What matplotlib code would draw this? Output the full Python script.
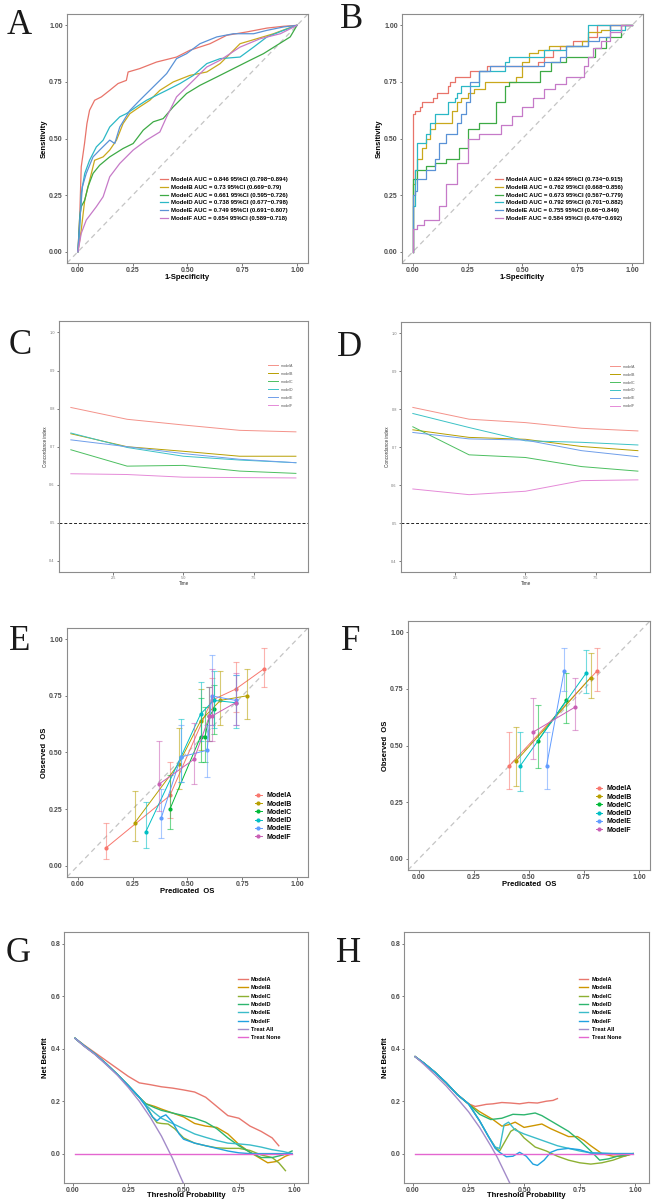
import numpy as np
import matplotlib
matplotlib.use("Agg")
import matplotlib.pyplot as plt

plt.rcParams['font.family'] = ['Liberation Sans', 'DejaVu Sans']

models = ["ModelA", "ModelB", "ModelC", "ModelD", "ModelE", "ModelF"]

# ---------------- ROC, training set (A) ----------------
aucA = ["0.846", "0.73", "0.661", "0.738", "0.749", "0.654"]
ciA = [("0.798", "0.894"), ("0.669", "0.79"), ("0.595", "0.726"),
       ("0.677", "0.798"), ("0.691", "0.807"), ("0.589", "0.718")]
rocA_fpr = [
    [0, .008, .015, .03, .041, .053, .076, .107, .145, .183, .221, .229, .282, .359, .45, .511, .603, .679, .771, .863, .939, 1],
    [0, .015, .031, .046, .076, .115, .145, .176, .206, .237, .282, .328, .374, .435, .511, .588, .649, .695, .740, .817, .893, .954, 1],
    [0, .008, .015, .031, .046, .069, .099, .145, .206, .252, .298, .344, .389, .435, .496, .557, .634, .71, .786, .847, .908, .969, 1],
    [0, .008, .015, .031, .053, .084, .115, .145, .191, .221, .267, .313, .359, .405, .466, .527, .588, .649, .740, .802, .863, .939, 1],
    [0, .008, .020, .038, .069, .099, .145, .168, .191, .237, .282, .328, .374, .405, .450, .496, .557, .634, .710, .802, .863, .939, 1],
    [0, .015, .038, .084, .115, .145, .191, .252, .313, .374, .405, .450, .527, .588, .649, .740, .832, .924, 1],
]
rocA_tpr = [
    [0, .154, .375, .478, .566, .625, .669, .684, .713, .743, .757, .794, .809, .838, .86, .89, .919, .956, .971, .988, .996, 1],
    [0, .096, .228, .287, .404, .419, .449, .493, .566, .610, .640, .669, .713, .750, .779, .794, .831, .875, .919, .941, .963, .985, 1],
    [0, .154, .199, .228, .287, .346, .382, .419, .456, .478, .537, .574, .588, .640, .699, .735, .772, .809, .846, .875, .912, .949, 1],
    [0, .110, .257, .346, .404, .463, .493, .551, .596, .610, .640, .669, .691, .713, .743, .779, .831, .853, .860, .904, .949, .978, 1],
    [0, .125, .287, .346, .419, .449, .493, .478, .551, .624, .669, .713, .757, .787, .853, .875, .919, .949, .963, .963, .978, .993, 1],
    [0, .081, .140, .199, .243, .331, .390, .449, .493, .529, .596, .684, .757, .816, .846, .904, .941, .963, 1],
]

# ---------------- ROC, validation set (B) ----------------
aucB = ["0.824", "0.762", "0.673", "0.792", "0.755", "0.584"]
ciB = [("0.734", "0.915"), ("0.668", "0.856"), ("0.567", "0.779"),
       ("0.701", "0.882"), ("0.66", "0.849"), ("0.476", "0.692")]
rocB_fpr = [
    [0, 0, .01, .03, .04, .06, .09, .11, .13, .16, .17, .19, .21, .26, .34, .37, .46, .57, .6, .64, .67, .73, .8, .84, .89, .95, 1],
    [0, 0, .01, .02, .04, .06, .08, .1, .12, .18, .2, .22, .25, .28, .33, .4, .47, .5, .53, .57, .62, .7, .77, .8, .86, .9, 1],
    [0, 0, .02, .06, .1, .15, .21, .25, .3, .38, .42, .44, .5, .58, .63, .7, .75, .83, .88, .95, 1],
    [0, 0, .01, .02, .03, .06, .08, .1, .12, .16, .19, .2, .22, .25, .3, .35, .42, .44, .47, .55, .6, .65, .7, .75, .8, .83, .9, .97, 1],
    [0, 0, .01, .02, .04, .06, .1, .12, .15, .18, .2, .22, .24, .26, .3, .35, .4, .5, .6, .67, .7, .8, .85, .9, .95, 1],
    [0, 0, .02, .05, .12, .15, .2, .25, .3, .4, .45, .5, .55, .6, .65, .7, .78, .8, .82, .86, .9, .95, 1],
]
rocB_tpr = [
    [0, .59, .61, .62, .64, .66, .66, .68, .70, .70, .73, .75, .77, .77, .80, .82, .82, .82, .84, .86, .89, .91, .93, .95, 1, 1, 1],
    [0, .12, .3, .36, .41, .46, .5, .54, .57, .57, .62, .66, .68, .70, .72, .75, .75, .77, .84, .88, .89, .91, .91, .93, .97, .98, 1],
    [0, .29, .32, .36, .38, .39, .41, .46, .54, .57, .66, .73, .75, .75, .80, .84, .86, .86, .90, .95, 1],
    [0, .05, .2, .36, .48, .48, .52, .57, .61, .61, .66, .68, .70, .73, .73, .80, .80, .84, .86, .86, .86, .89, .89, .91, .91, 1, 1, .98, 1],
    [0, .2, .25, .27, .32, .32, .36, .41, .48, .52, .52, .57, .61, .66, .75, .80, .82, .82, .82, .84, .86, .91, .93, .95, 1, 1],
    [0, .09, .1, .12, .14, .2, .3, .39, .5, .52, .56, .6, .64, .68, .72, .74, .77, .82, .86, .9, .93, .97, 1],
]

# ---------------- time-dependent C-index (C, D) ----------------
cindex_names = ["modelA", "modelB", "modelC", "modelD", "modelE", "modelF"]
cindex_time = [1, 3, 5, 7, 9]
cindexC = [
    [0.803, 0.772, 0.757, 0.743, 0.739],
    [0.734, 0.700, 0.688, 0.675, 0.675],
    [0.692, 0.649, 0.651, 0.636, 0.630],
    [0.736, 0.698, 0.675, 0.665, 0.658],
    [0.718, 0.700, 0.682, 0.667, 0.658],
    [0.629, 0.627, 0.620, 0.619, 0.618],
]
cindexD = [
    [0.805, 0.774, 0.765, 0.750, 0.743],
    [0.746, 0.726, 0.721, 0.702, 0.691],
    [0.754, 0.680, 0.673, 0.649, 0.637],
    [0.789, 0.752, 0.717, 0.713, 0.706],
    [0.739, 0.722, 0.719, 0.691, 0.675],
    [0.590, 0.575, 0.584, 0.612, 0.614],
]

# ---------------- calibration (E, F) ----------------
calE_pred = [[0.13, 0.42, 0.61, 0.72, 0.85], [0.26, 0.46, 0.56, 0.65, 0.77], [0.42, 0.56, 0.58, 0.60, 0.62],
             [0.31, 0.47, 0.56, 0.62, 0.72], [0.38, 0.47, 0.59, 0.61, 0.72], [0.37, 0.53, 0.60, 0.61, 0.72]]
calE_obs = [[0.08, 0.31, 0.73, 0.78, 0.87], [0.19, 0.45, 0.64, 0.73, 0.75], [0.25, 0.57, 0.57, 0.66, 0.69],
            [0.15, 0.48, 0.67, 0.73, 0.72], [0.21, 0.48, 0.51, 0.75, 0.73], [0.36, 0.47, 0.66, 0.66, 0.72]]
calE_lo = [[0.03, 0.21, 0.62, 0.68, 0.79], [0.11, 0.34, 0.51, 0.62, 0.65], [0.16, 0.46, 0.46, 0.55, 0.58],
           [0.08, 0.37, 0.55, 0.61, 0.61], [0.12, 0.37, 0.39, 0.62, 0.62], [0.24, 0.36, 0.55, 0.55, 0.62]]
calE_hi = [[0.19, 0.46, 0.83, 0.90, 0.96], [0.33, 0.61, 0.78, 0.86, 0.87], [0.40, 0.74, 0.70, 0.79, 0.80],
           [0.28, 0.65, 0.81, 0.86, 0.84], [0.34, 0.62, 0.62, 0.93, 0.84], [0.55, 0.63, 0.79, 0.87, 0.85]]

calF_pred = [[0.41, 0.81], [0.44, 0.78], [0.54, 0.67], [0.46, 0.76], [0.58, 0.66], [0.52, 0.71]]
calF_obs = [[0.41, 0.83], [0.43, 0.80], [0.52, 0.70], [0.41, 0.82], [0.41, 0.83], [0.56, 0.67]]
calF_lo = [[0.31, 0.74], [0.32, 0.71], [0.40, 0.60], [0.30, 0.73], [0.31, 0.74], [0.44, 0.57]]
calF_hi = [[0.56, 0.93], [0.58, 0.91], [0.68, 0.82], [0.56, 0.92], [0.56, 0.93], [0.71, 0.80]]

# ---------------- decision curves (G, H) ----------------
dca_names = ["ModelA", "ModelB", "ModelC", "ModelD", "ModelE", "ModelF", "Treat All", "Treat None"]
startG_t = [0.01, 0.05, 0.1, 0.15, 0.2, 0.25, 0.3]
startG_nb = [0.44, 0.412, 0.38, 0.343, 0.303, 0.26, 0.215]
dcaG_t = [
    [0.01, 0.05, 0.1, 0.15, 0.2, 0.25, 0.3, 0.35, 0.4, 0.45, 0.5, 0.55, 0.6, 0.65, 0.7, 0.75, 0.8, 0.85, 0.9, 0.93],
    startG_t + [0.33, 0.37, 0.4, 0.45, 0.5, 0.55, 0.6, 0.65, 0.7, 0.75, 0.8, 0.85, 0.88, 0.92, 0.96, 0.99],
    startG_t + [0.33, 0.36, 0.38, 0.4, 0.43, 0.46, 0.5, 0.55, 0.6, 0.65, 0.7, 0.75, 0.8, 0.85, 0.9, 0.93, 0.96],
    startG_t + [0.33, 0.37, 0.4, 0.45, 0.5, 0.55, 0.6, 0.65, 0.7, 0.75, 0.8, 0.85, 0.9, 0.95, 0.99],
    startG_t + [0.33, 0.37, 0.4, 0.45, 0.5, 0.55, 0.6, 0.65, 0.7, 0.75, 0.8, 0.85, 0.9, 0.95, 0.99],
    startG_t + [0.33, 0.36, 0.38, 0.4, 0.42, 0.45, 0.48, 0.5, 0.55, 0.6, 0.65, 0.7, 0.75, 0.8, 0.9, 0.99],
    [0.01, 0.05, 0.1, 0.15, 0.2, 0.25, 0.3, 0.35, 0.4, 0.45, 0.48, 0.5],
    [0.01, 0.99],
]
dcaG_nb = [
    [0.44, 0.415, 0.385, 0.355, 0.325, 0.295, 0.27, 0.263, 0.255, 0.25, 0.243, 0.235, 0.215, 0.18, 0.145, 0.135, 0.105, 0.085, 0.06, 0.03],
    startG_nb + [0.19, 0.18, 0.17, 0.155, 0.14, 0.115, 0.105, 0.1, 0.075, 0.035, 0.005, -0.02, -0.035, -0.03, -0.01, 0.0],
    startG_nb + [0.185, 0.14, 0.118, 0.115, 0.113, 0.095, 0.06, 0.04, 0.03, 0.022, 0.02, 0.02, 0.012, -0.005, -0.015, -0.035, -0.065],
    startG_nb + [0.19, 0.175, 0.165, 0.155, 0.145, 0.135, 0.12, 0.095, 0.06, 0.03, 0.005, -0.015, -0.015, -0.005, 0.01],
    startG_nb + [0.185, 0.155, 0.135, 0.115, 0.095, 0.075, 0.062, 0.05, 0.04, 0.037, 0.033, 0.025, 0.015, 0.008, 0.0],
    startG_nb + [0.18, 0.14, 0.125, 0.14, 0.148, 0.12, 0.075, 0.055, 0.04, 0.03, 0.02, 0.01, 0.003, 0.0, 0.0, 0.0],
    [0.44, 0.41, 0.378, 0.34, 0.30, 0.253, 0.20, 0.138, 0.067, -0.018, -0.077, -0.115],
    [0.0, 0.0],
]
startH_t = [0.01, 0.05, 0.1, 0.15, 0.2, 0.25]
startH_nb = [0.37, 0.345, 0.31, 0.27, 0.225, 0.19]
dcaH_t = [
    startH_t + [0.28, 0.3, 0.33, 0.36, 0.4, 0.44, 0.48, 0.52, 0.56, 0.6, 0.63, 0.65],
    startH_t + [0.3, 0.33, 0.36, 0.4, 0.43, 0.46, 0.5, 0.55, 0.58, 0.62, 0.66, 0.7, 0.74, 0.77, 0.8, 0.85, 0.9, 0.95, 0.99],
    startH_t + [0.3, 0.34, 0.37, 0.39, 0.41, 0.44, 0.46, 0.48, 0.5, 0.55, 0.6, 0.65, 0.7, 0.75, 0.8, 0.85, 0.9, 0.95, 0.99],
    startH_t + [0.3, 0.35, 0.4, 0.45, 0.5, 0.55, 0.58, 0.62, 0.66, 0.7, 0.75, 0.8, 0.84, 0.88, 0.92, 0.96, 0.99],
    startH_t + [0.3, 0.34, 0.37, 0.39, 0.41, 0.43, 0.46, 0.5, 0.55, 0.6, 0.65, 0.7, 0.75, 0.8, 0.9, 0.99],
    startH_t + [0.3, 0.34, 0.37, 0.39, 0.42, 0.45, 0.48, 0.51, 0.54, 0.56, 0.59, 0.62, 0.65, 0.7, 0.75, 0.8, 0.9, 0.99],
    [0.01, 0.05, 0.1, 0.15, 0.2, 0.25, 0.3, 0.35, 0.38, 0.4, 0.42, 0.44],
    [0.01, 0.99],
]
dcaH_nb = [
    startH_nb + [0.18, 0.183, 0.188, 0.19, 0.195, 0.193, 0.19, 0.195, 0.193, 0.2, 0.203, 0.21],
    startH_nb + [0.16, 0.145, 0.13, 0.105, 0.11, 0.12, 0.1, 0.108, 0.113, 0.095, 0.08, 0.065, 0.065, 0.05, 0.03, 0.0, -0.01, -0.01, 0.0],
    startH_nb + [0.125, 0.065, 0.025, 0.01, 0.04, 0.085, 0.095, 0.08, 0.06, 0.025, 0.01, -0.01, -0.025, -0.035, -0.04, -0.035, -0.025, -0.01, 0.0],
    startH_nb + [0.15, 0.13, 0.135, 0.15, 0.148, 0.155, 0.145, 0.125, 0.105, 0.085, 0.05, 0.01, -0.025, -0.02, -0.01, -0.005, 0.0],
    startH_nb + [0.125, 0.065, 0.025, 0.02, 0.11, 0.12, 0.09, 0.075, 0.06, 0.045, 0.03, 0.02, 0.01, 0.003, 0.0, 0.0],
    startH_nb + [0.125, 0.065, 0.02, 0.005, -0.012, -0.01, 0.005, -0.01, -0.04, -0.045, -0.025, 0.005, 0.015, 0.02, 0.015, 0.002, 0.0, 0.0],
    [0.37, 0.34, 0.30, 0.258, 0.21, 0.16, 0.10, 0.03, -0.015, -0.05, -0.085, -0.12],
    [0.0, 0.0],
]

# colours
roc_colors = ["#E8746A", "#C9A81C", "#3DAA45", "#2BB8C6", "#5A92D6", "#C67AC8"]
cidx_colors = ["#F4928A", "#B79F00", "#4CBF60", "#3CC2C6", "#6F9EEA", "#E58AD8"]
cal_colors = ["#F8766D", "#B79F00", "#00BA38", "#00BFC4", "#619CFF", "#C95FB5"]
dca_colors = ["#E8776E", "#CD9600", "#8DB032", "#2DB56E", "#3BBCC9", "#1FA2E0", "#A38BC9", "#E466D0"]

fig = plt.figure(figsize=(6.53, 12), dpi=100)
fig.patch.set_facecolor("white")


def make_axes(rect, xlim, ylim, xticks, xlabels, yticks, ylabels,
              tsize=5, tcolor="#4d4d4d", bold=True, pad=1.2):
    ax = fig.add_axes(rect)
    ax.set_xlim(*xlim)
    ax.set_ylim(*ylim)
    for s in ax.spines.values():
        s.set_color("#8c8c8c")
        s.set_linewidth(0.8)
    w = "bold" if bold else "normal"
    ax.set_xticks(xticks, xlabels, fontweight=w)
    ax.set_yticks(yticks, ylabels, fontweight=w)
    ax.tick_params(length=1.8, width=0.5, color="#444444", labelsize=tsize,
                   labelcolor=tcolor, pad=pad)
    return ax


def letter(x, y, s):
    fig.text(x / 653, 1 - y / 1200, s, fontsize=25, family="Liberation Serif",
             ha="center", va="center", color="#1a1a1a")


t01 = [0, 0.25, 0.5, 0.75, 1.0]
t01_lab = ["0.00", "0.25", "0.50", "0.75", "1.00"]

# ---- A and B: ROC ----
for rect, fprs, tprs, aucs, cis, step in [
        ([0.1026, 0.7808, 0.369, 0.2075], rocA_fpr, rocA_tpr, aucA, ciA, False),
        ([0.6156, 0.7808, 0.369, 0.2075], rocB_fpr, rocB_tpr, aucB, ciB, True)]:
    ax = make_axes(rect, (-0.05, 1.05), (-0.05, 1.05), t01, t01_lab, t01, t01_lab)
    ax.axline((0, 0), (1, 1), color="#c4c4c4", lw=0.9, ls=(0, (4, 3)))
    for i, m in enumerate(models):
        lab = f"{m} AUC = {aucs[i]} 95%CI ({cis[i][0]}\u2212{cis[i][1]})"
        ax.plot(fprs[i], tprs[i], color=roc_colors[i], lw=0.9, label=lab,
                drawstyle="steps-pre" if step else "default")
    ax.set_xlabel("1-Specificity", fontsize=5.5, fontweight="bold", labelpad=0)
    ax.set_ylabel("Sensitivity", fontsize=5.5, fontweight="bold", labelpad=1)
    ax.legend(loc="upper left", bbox_to_anchor=(0.385, 0.345), frameon=False,
              prop={"size": 4.3, "weight": "bold"}, handlelength=1.3,
              handletextpad=0.5, labelspacing=0.42, borderaxespad=0, borderpad=0)

letter(19, 26, "A")
letter(352, 19, "B")

# ---- C and D: C-index over time ----
cticks = [0.4, 0.5, 0.6, 0.7, 0.8, 0.9, 1.0]
for rect, vals in [([0.0904, 0.5233, 0.3813, 0.2092], cindexC),
                   ([0.6141, 0.5233, 0.3813, 0.2083], cindexD)]:
    ax = make_axes(rect, (0.58, 9.43), (0.371, 1.03), [2.5, 5.0, 7.5],
                   ["2.5", "5.0", "7.5"], cticks, [f"{v:.1f}" for v in cticks],
                   tsize=2.8, tcolor="#777777", bold=False)
    ax.axhline(0.5, color="#222222", lw=0.7, ls=(0, (3, 2)))
    for i, n in enumerate(cindex_names):
        ax.plot(cindex_time, vals[i], color=cidx_colors[i], lw=0.7, label=n)
    ax.set_xlabel("Time", fontsize=3.3, labelpad=0.5, color="#333333")
    ax.set_ylabel("Concordance index", fontsize=3.3, labelpad=1, color="#333333")
    ax.legend(loc="upper left", bbox_to_anchor=(0.84, 0.83), frameon=False,
              prop={"size": 2.6}, handlelength=2.6, handletextpad=0.8,
              labelspacing=1.1, borderaxespad=0, borderpad=0, labelcolor="#555555")

letter(20, 346, "C")
letter(349, 347, "D")

# ---- E and F: calibration ----
for rect, px, ob, lo, hi, lx in [
        ([0.1026, 0.2692, 0.369, 0.2075], calE_pred, calE_obs, calE_lo, calE_hi, 0.78),
        ([0.6248, 0.275, 0.3706, 0.2075], calF_pred, calF_obs, calF_lo, calF_hi, 0.775)]:
    ax = make_axes(rect, (-0.05, 1.05), (-0.05, 1.05), t01, t01_lab, t01, t01_lab)
    ax.axline((0, 0), (1, 1), color="#c4c4c4", lw=0.9, ls=(0, (4, 3)))
    for i, m in enumerate(models):
        x = np.array(px[i])
        y = np.array(ob[i])
        err = [y - np.array(lo[i]), np.array(hi[i]) - y]
        ax.errorbar(x, y, yerr=err, fmt="none", ecolor=cal_colors[i], elinewidth=0.8,
                    capsize=2, capthick=0.8, alpha=0.55)
        ax.plot(x, y, color=cal_colors[i], lw=0.7, marker="o", ms=2, label=m)
    ax.set_xlabel("Predicated  OS", fontsize=5.5, fontweight="bold", labelpad=0)
    ax.set_ylabel("Observed  OS", fontsize=5.5, fontweight="bold", labelpad=1)
    ax.legend(loc="upper left", bbox_to_anchor=(lx, 0.34), frameon=False,
              prop={"size": 5, "weight": "bold"}, handlelength=1.0,
              handletextpad=0.6, labelspacing=0.18, borderaxespad=0, borderpad=0)

letter(20, 642, "E")
letter(351, 642, "F")

# ---- G and H: decision curves ----
nb_ticks = [0.0, 0.2, 0.4, 0.6, 0.8]
for rect, ts, nbs in [([0.098, 0.0142, 0.3737, 0.2092], dcaG_t, dcaG_nb),
                      ([0.6187, 0.0142, 0.3752, 0.2092], dcaH_t, dcaH_nb)]:
    ax = make_axes(rect, (-0.04, 1.062), (-0.112, 0.846), t01, t01_lab,
                   nb_ticks, [f"{v:.1f}" for v in nb_ticks], pad=0.8)
    for i, n in enumerate(dca_names):
        ax.plot(ts[i], nbs[i], color=dca_colors[i], lw=1.0, label=n)
    ax.set_xlabel("Threshold Probability", fontsize=5.5, fontweight="bold", labelpad=-1)
    ax.set_ylabel("Net Benefit", fontsize=5.5, fontweight="bold", labelpad=1)
    ax.legend(loc="upper left", bbox_to_anchor=(0.715, 0.82), frameon=False,
              prop={"size": 4.1, "weight": "bold"}, handlelength=1.6,
              handletextpad=0.6, labelspacing=0.58, borderaxespad=0, borderpad=0)

letter(18, 953, "G")
letter(349, 953, "H")

fig.savefig("out.png", dpi=100, facecolor="white")
